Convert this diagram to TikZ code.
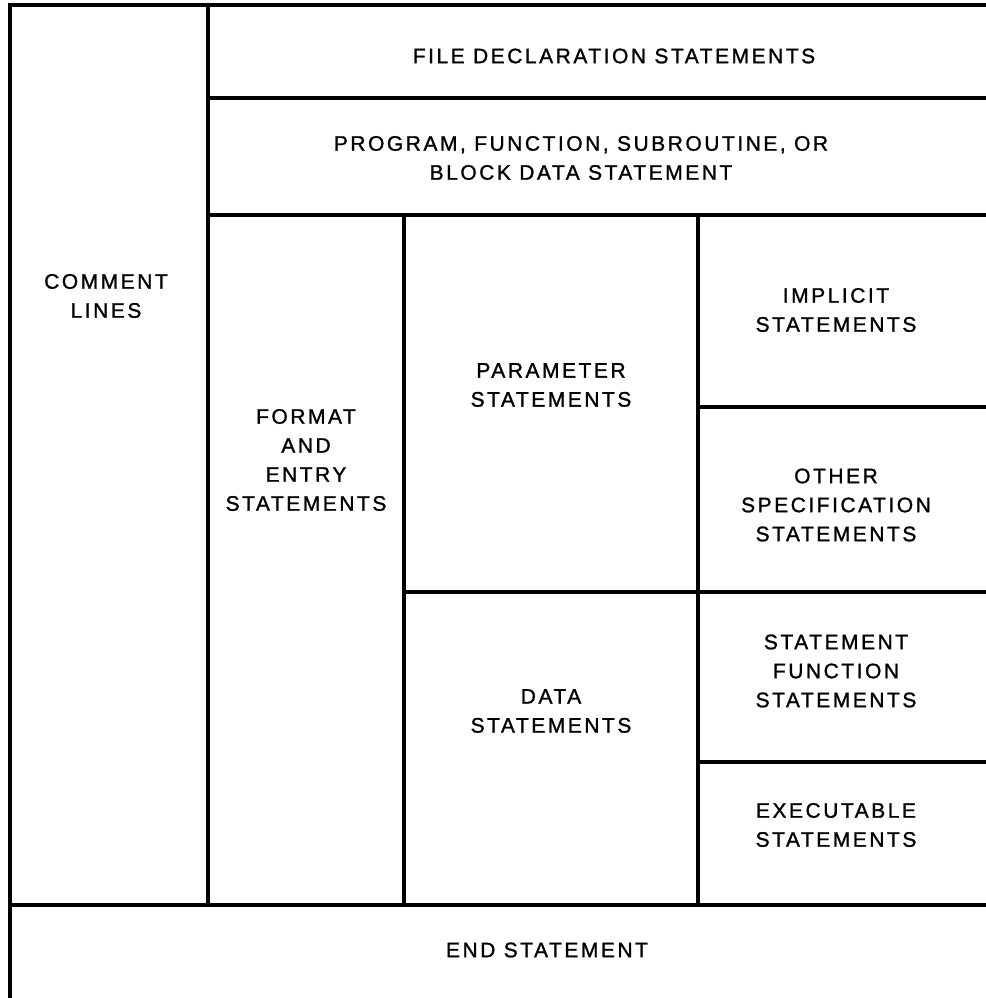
\documentclass[tikz,border=0pt]{standalone}
\usepackage{fontspec}
\setmainfont{Liberation Sans}[LetterSpace=12,FakeBold=1.2]
\begin{document}
\begin{tikzpicture}[x=1pt,y=-1pt,
  rule/.style={line width=3.2pt,line cap=rect},
  lbl/.style={align=center,inner sep=0pt,font=\fontsize{21}{29}\selectfont}]
\useasboundingbox (0,0) rectangle (985,998);
% frame and cell boundaries
\draw[rule] (10,998) -- (10,5) -- (985,5);
\draw[rule] (208,5) -- (208,905);
\draw[rule] (10,905) -- (985,905);
\draw[rule] (208,98) -- (985,98);
\draw[rule] (208,215) -- (985,215);
\draw[rule] (404,215) -- (404,905);
\draw[rule] (698,215) -- (698,905);
\draw[rule] (404,592) -- (985,592);
\draw[rule] (698,407) -- (985,407);
\draw[rule] (698,762) -- (985,762);
% labels
\node[lbl] (file) at (614,56) {FILE DECLARATION STATEMENTS};
\node[lbl] (prog) at (581,158) {PROGRAM, FUNCTION, SUBROUTINE, OR\\BLOCK DATA STATEMENT};
\node[lbl] (comm) at (106,296) {COMMENT\\LINES};
\node[lbl] (fmt) at (306,460) {FORMAT\\AND\\ENTRY\\STATEMENTS};
\node[lbl] (param) at (551,385) {PARAMETER\\STATEMENTS};
\node[lbl] (impl) at (836,310) {IMPLICIT\\STATEMENTS};
\node[lbl] (other) at (836,505) {OTHER\\SPECIFICATION\\STATEMENTS};
\node[lbl] (data) at (551,711) {DATA\\STATEMENTS};
\node[lbl] (sfun) at (836,671) {STATEMENT\\FUNCTION\\STATEMENTS};
\node[lbl] (exec) at (836,825) {EXECUTABLE\\STATEMENTS};
\node[lbl] (endst) at (547,950) {END STATEMENT};
\end{tikzpicture}
\end{document}
